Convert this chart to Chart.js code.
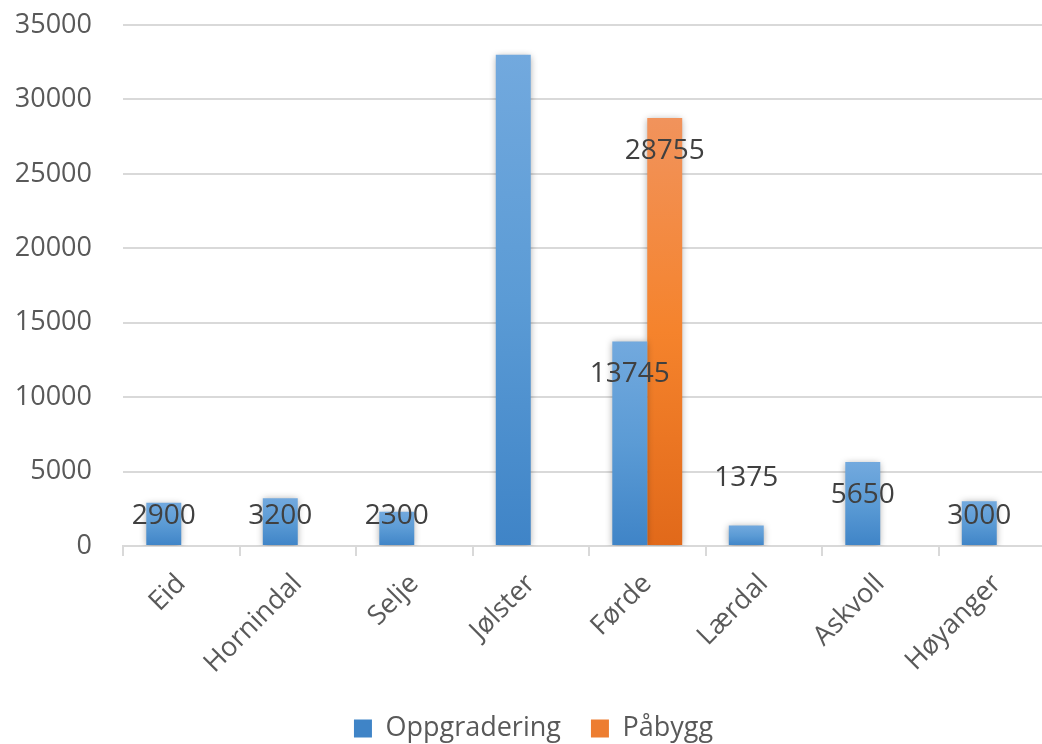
<!DOCTYPE html>
<html>
<head>
  <title>Oppgradering og påbygg</title>
  <meta charset="utf-8" />
  <script src="https://cdn.jsdelivr.net/npm/chart.js"></script>
  <style>
    body {
      margin: 0;
      padding: 0;
      background: #fff;
      overflow: hidden;
    }
    #wrap {
      position: relative;
      width: 1090px;
      height: 744px;
    }
  </style>
</head>
<body>
  <div id="wrap"><canvas id="chart"></canvas></div>

  <script>
    const categories = ['Eid', 'Hornindal', 'Selje', 'Jølster', 'Førde', 'Lærdal', 'Askvoll', 'Høyanger'];
    const oppgradering = [2900, 3200, 2300, 33000, 13745, 1375, 5650, 3000];
    const paabygg = [null, null, null, null, 28755, null, null, null];
    // verdietiketter som vises (Jølster har ingen)
    const oppgraderingLabels = ['2900', '3200', '2300', null, '13745', '1375', '5650', '3000'];
    const paabyggLabels = [null, null, null, null, '28755', null, null, null];
    const yTicks = [0, 5000, 10000, 15000, 20000, 25000, 30000, 35000];

    const FONT = '"Open Sans", sans-serif';

    function barGradient(stops, solid) {
      return (c) => {
        const chart = c.chart;
        if (c.type !== 'data' || !chart.chartArea || c.raw == null) return solid;
        const y = chart.scales.y;
        const top = y.getPixelForValue(c.raw);
        const bottom = y.getPixelForValue(0);
        const g = chart.ctx.createLinearGradient(0, top, 0, bottom);
        g.addColorStop(0, stops[0]);
        g.addColorStop(0.5, stops[1]);
        g.addColorStop(1, stops[2]);
        return g;
      };
    }

    // skygge bak søylene
    const shadow = {
      id: 'shadow',
      beforeDatasetsDraw(chart) {
        const ctx = chart.ctx;
        ctx.save();
        ctx.shadowColor = 'rgba(0,0,0,0.35)';
        ctx.shadowBlur = 7;
        ctx.shadowOffsetX = 0;
        ctx.shadowOffsetY = 1;
      },
      afterDatasetsDraw(chart) {
        chart.ctx.restore();
      }
    };

    // verdietiketter, innerst i enden av søylen
    const valueLabels = {
      id: 'valueLabels',
      afterDatasetsDraw(chart) {
        const ctx = chart.ctx;
        const zero = chart.scales.y.getPixelForValue(0);
        const lists = [oppgraderingLabels, paabyggLabels];
        ctx.save();
        ctx.font = '28px ' + FONT;
        ctx.fillStyle = '#404040';
        ctx.textAlign = 'center';
        ctx.textBaseline = 'middle';
        chart.data.datasets.forEach((ds, i) => {
          const meta = chart.getDatasetMeta(i);
          meta.data.forEach((bar, j) => {
            const txt = lists[i][j];
            if (!txt) return;
            const h = zero - bar.y;
            let y;
            if (h < 25) y = bar.y - 48;
            else y = Math.min(bar.y + 33, zero - 30);
            ctx.fillText(txt, bar.x, y);
          });
        });
        ctx.restore();
      }
    };

    const ctx = document.getElementById('chart').getContext('2d');

    const chart = new Chart(ctx, {
      type: 'bar',
      data: {
        labels: categories,
        datasets: [{
          label: 'Oppgradering',
          data: oppgradering,
          backgroundColor: barGradient(['#72a9de', '#5b9bd5', '#3f84c7'], '#5b9bd5'),
          categoryPercentage: 0.6,
          barPercentage: 1
        }, {
          label: 'Påbygg',
          data: paabygg,
          backgroundColor: barGradient(['#f1935c', '#f5832c', '#e1691a'], '#ed7d31'),
          categoryPercentage: 0.6,
          barPercentage: 1
        }]
      },
      options: {
        responsive: true,
        maintainAspectRatio: false,
        animation: false,
        layout: {
          padding: { left: 12, right: 35, top: 25, bottom: -8 }
        },
        plugins: {
          tooltip: { enabled: false },
          legend: {
            position: 'bottom',
            labels: {
              color: '#595959',
              font: { family: FONT, size: 27 },
              boxWidth: 18,
              boxHeight: 18,
              padding: 30
            }
          }
        },
        scales: {
          x: {
            afterFit: (s) => { s.height = 139; },
            grid: {
              offset: true,
              drawOnChartArea: false,
              drawTicks: true,
              tickLength: 10,
              color: '#d9d9d9',
              lineWidth: 2
            },
            border: { color: '#d9d9d9', width: 2 },
            ticks: {
              color: '#595959',
              font: { family: FONT, size: 27 },
              minRotation: 45,
              maxRotation: 45,
              padding: 12
            }
          },
          y: {
            min: 0,
            max: yTicks[yTicks.length - 1],
            afterBuildTicks: (axis) => {
              axis.ticks = yTicks.map(v => ({ value: v }));
            },
            afterFit: (s) => {
              s.width = 111;
              s.paddingTop = 0;
              s.paddingBottom = 0;
            },
            grid: {
              color: '#d9d9d9',
              lineWidth: 2,
              drawTicks: false
            },
            border: { display: false },
            ticks: {
              color: '#595959',
              font: { family: FONT, size: 27 },
              padding: 31,
              callback: (v) => String(v)
            }
          }
        }
      },
      plugins: [shadow, valueLabels]
    });
  </script>
</body>
</html>
